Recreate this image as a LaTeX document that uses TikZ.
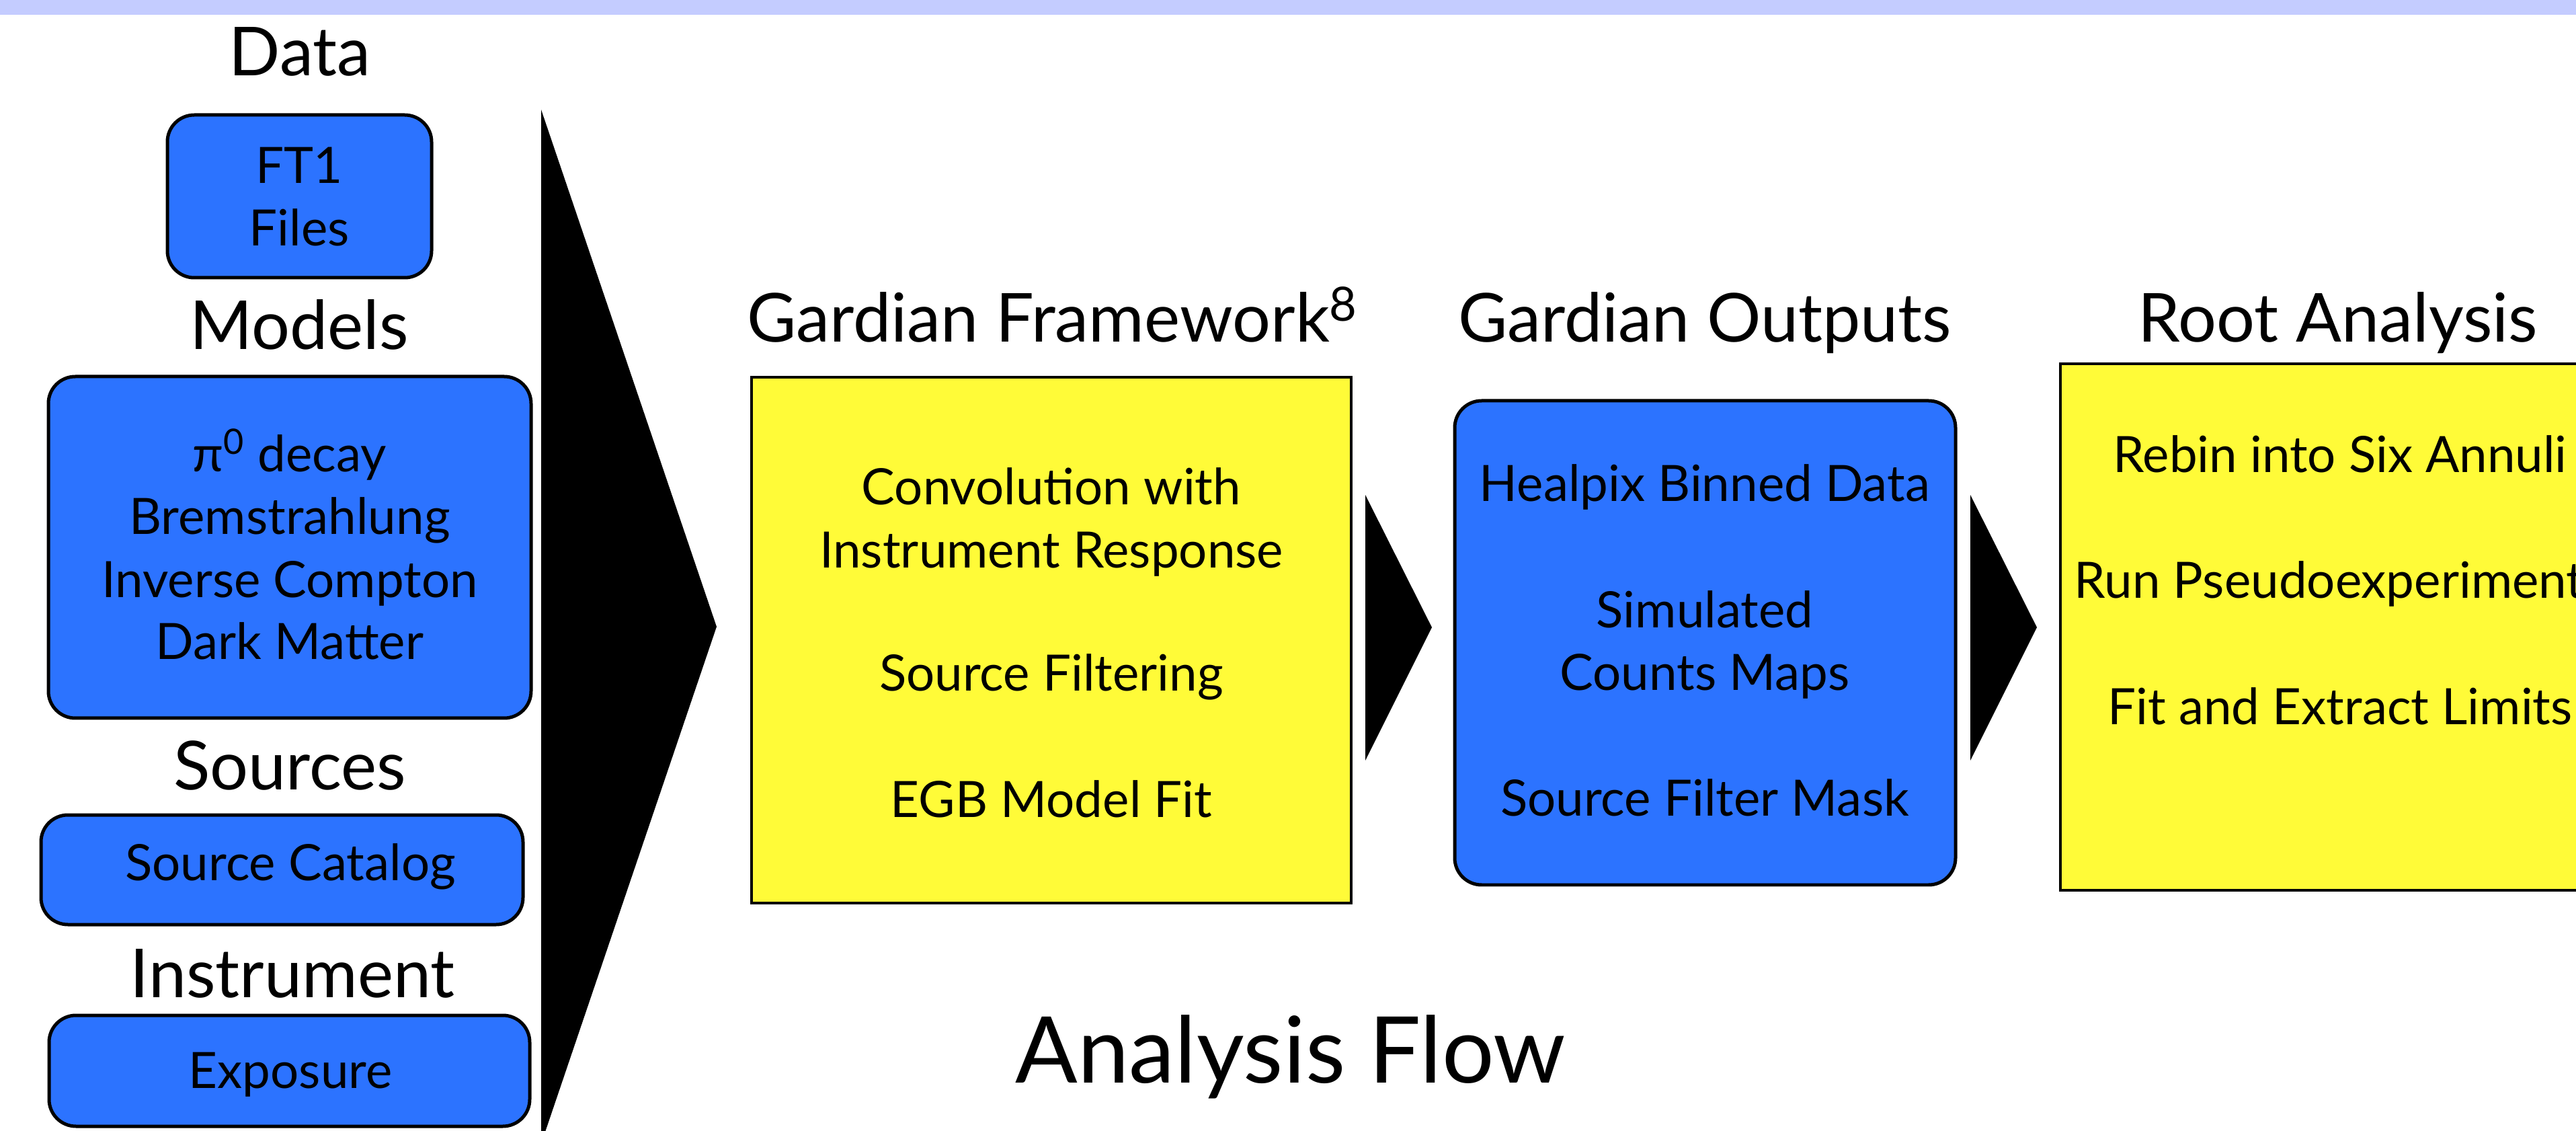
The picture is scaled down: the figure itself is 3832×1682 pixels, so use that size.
\documentclass[tikz,border=0pt]{standalone}
\usepackage{fontspec}
\setmainfont{Lato}
\definecolor{bandblue}{RGB}{196,204,255}
\definecolor{boxblue}{RGB}{44,115,255}
\definecolor{boxyellow}{RGB}{255,251,56}
\begin{document}
\begin{tikzpicture}[x=0.1mm,y=-0.1mm,
  bluebox/.style={draw=black, line width=0.5mm, fill=boxblue, rounded corners=4mm, inner sep=0pt},
  yellowbox/.style={draw=black, line width=0.4mm, fill=boxyellow, inner sep=0pt},
  body/.style={anchor=base, inner sep=0pt, font=\fontsize{21.2pt}{25pt}\selectfont},
  heading/.style={anchor=base, inner sep=0pt, font=\fontsize{28.6pt}{34pt}\selectfont},
  bigtitle/.style={anchor=base, inner sep=0pt, font=\fontsize{39pt}{47pt}\selectfont},
  chevron/.style={fill=black}]
\useasboundingbox (0,0) rectangle (3832,1682);
\clip (0,0) rectangle (3832,1682);

% header band
\fill[bandblue] (0,0) rectangle (3832,22);

% input column
\node[heading] (tdata) at (446,113) {Data};
\node[bluebox, minimum width=39.3mm, minimum height=24.2mm] (ft1) at (445.5,292) {};
\node[body] (ft1a) at (445,273) {FT1};
\node[body] (ft1b) at (445,366) {Files};

\node[heading] (tmodels) at (445,520) {Models};
\node[bluebox, minimum width=71.8mm, minimum height=50.8mm] (models) at (431,814) {};
\node[body] (m1) at (431,702) {π\textsuperscript{0} decay};
\node[body] (m2) at (431,795) {Bremstrahlung};
\node[body] (m3) at (431,889) {Inverse Compton};
\node[body] (m4) at (431,981) {Dark Matter};

\node[heading] (tsources) at (431,1174) {Sources};
\node[bluebox, minimum width=71.7mm, minimum height=16.3mm] (srccat) at (419.5,1293.5) {};
\node[body] (sc) at (432,1309) {Source Catalog};

\node[heading] (tinstr) at (435,1483) {Instrument};
\node[bluebox, minimum width=71.5mm, minimum height=16.5mm] (expo) at (430.5,1592.5) {};
\node[body] (ex) at (432,1618) {Exposure};

% flow chevrons
\fill[chevron] (805,163) -- (1066,932) -- (805,1701) -- cycle;
\fill[chevron] (2031,736) -- (2130,933) -- (2031,1131) -- cycle;
\fill[chevron] (2931,736) -- (3030,933) -- (2931,1131) -- cycle;

% Gardian framework
\node[heading] (tgfw) at (1566,509) {Gardian Framework\textsuperscript{8}};
\node[yellowbox, minimum width=89.2mm, minimum height=78.2mm] (gfw) at (1564,952) {};
\node[body] (g1) at (1564,751) {Convolution with};
\node[body] (g2) at (1564,845) {Instrument Response};
\node[body] (g3) at (1564,1028) {Source Filtering};
\node[body] (g4) at (1564,1215) {EGB Model Fit};

% Gardian outputs
\node[heading] (tgout) at (2536,509) {Gardian Outputs};
\node[bluebox, minimum width=74.5mm, minimum height=72mm] (gout) at (2536.5,956) {};
\node[body] (o1) at (2536,746) {Healpix Binned Data};
\node[body] (o2) at (2536,933) {Simulated};
\node[body] (o3) at (2536,1026) {Counts Maps};
\node[body] (o4) at (2536,1213) {Source Filter Mask};

% Root analysis
\node[heading] (troot) at (3478,509) {Root Analysis};
\node[yellowbox, minimum width=83.2mm, minimum height=78.3mm] (root) at (3481,932.5) {};
\node[body] (r1) at (3481,703) {Rebin into Six Annuli};
\node[body] (r2) at (3481,890) {Run Pseudoexperiments};
\node[body] (r3) at (3481,1077) {Fit and Extract Limits};

\node[bigtitle] (flow) at (1920,1610) {Analysis Flow};
\end{tikzpicture}
\end{document}
